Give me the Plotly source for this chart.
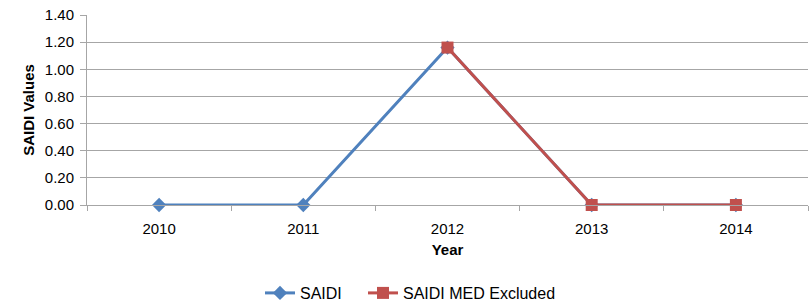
import plotly.graph_objects as go

years = ["2010", "2011", "2012", "2013", "2014"]
saidi = [0.0, 0.0, 1.16, 0.0, 0.0]
saidi_med_excluded = [None, None, 1.16, 0.0, 0.0]
y_ticks = [0.0, 0.2, 0.4, 0.6, 0.8, 1.0, 1.2, 1.4]

xpos = list(range(len(years)))

fig = go.Figure()
fig.add_trace(go.Scatter(
    x=xpos, y=saidi, name="SAIDI", mode="lines+markers", cliponaxis=False,
    line=dict(color="#4F81BD", width=3),
    marker=dict(symbol="diamond", size=11, color="#4F81BD"),
    legend="legend",
))
fig.add_trace(go.Scatter(
    x=xpos, y=saidi_med_excluded, name="SAIDI MED Excluded", mode="lines+markers",
    cliponaxis=False,
    line=dict(color="#C0504D", width=3),
    marker=dict(symbol="square", size=12, color="#C0504D"),
    legend="legend2",
))

font = dict(family="Liberation Sans, Arial, sans-serif", size=15, color="#000000")
legend_common = dict(orientation="h", xanchor="left", xref="container",
                     y=(305 - 293) / 305, yanchor="middle", yref="container",
                     font=dict(size=16), itemwidth=30, tracegroupgap=0,
                     bgcolor="rgba(0,0,0,0)")

fig.update_layout(
    width=811, height=305,
    margin=dict(l=87, r=3, t=15, b=100, autoexpand=False),
    paper_bgcolor="white", plot_bgcolor="white",
    font=font,
    showlegend=True,
    legend=dict(x=260 / 811, **legend_common),
    legend2=dict(x=363 / 811, **legend_common),
    xaxis=dict(
        range=[-0.5, 4.5], tickmode="array", tickvals=xpos, ticktext=years,
        automargin=False,
        showgrid=False, zeroline=False, showline=True, linecolor="#A6A6A6", linewidth=1,
        ticks="", tickfont=dict(size=15), ticklabelstandoff=10,
        minor=dict(tickmode="array", tickvals=[i - 0.5 for i in range(len(years) + 1)],
                   ticks="outside", ticklen=5, tickcolor="#A6A6A6", showgrid=False),
        title=dict(text="<b>Year</b>", font=dict(size=15), standoff=8),
    ),
    yaxis=dict(
        range=[0, 1.4], tickmode="array", tickvals=y_ticks,
        ticktext=[f"{v:.2f}" for v in y_ticks], automargin=False,
        showgrid=True, gridcolor="#A6A6A6", gridwidth=1, zeroline=False,
        showline=True, linecolor="#A6A6A6", linewidth=1,
        ticks="outside", ticklen=6, tickcolor="#A6A6A6", tickfont=dict(size=15),
        ticklabelstandoff=3,
        title=dict(text="<b>SAIDI Values</b>", font=dict(size=15), standoff=6),
    ),
)

fig.write_html(
    "out.html",
    config={"displayModeBar": False},
    post_script="document.body.style.margin='0';document.body.style.overflow='hidden';",
)
